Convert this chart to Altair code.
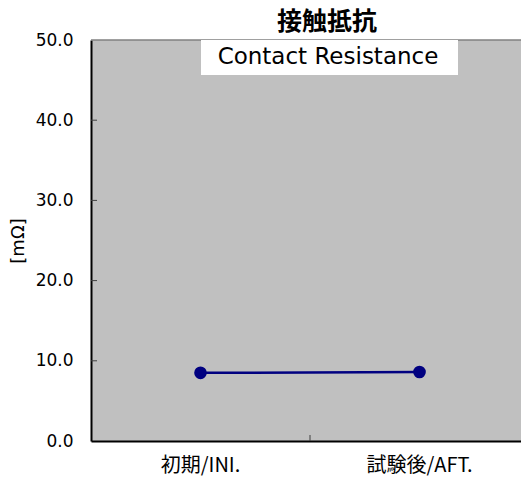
import altair as alt
import pandas as pd

categories = ["初期/INI.", "試験後/AFT."]
values = [8.5, 8.6]
y_ticks = [0, 10, 20, 30, 40, 50]
title_main = "接触抵抗"
title_sub = "Contact Resistance"
y_title = "[mΩ]"

df = pd.DataFrame({"cat": categories, "v": values})
df_ticks = pd.DataFrame({"t": y_ticks[1:-1]})
df_xtick = pd.DataFrame({"cat": categories[1:]})
df_text = pd.DataFrame({"main": [title_main], "sub": [title_sub]})

W, H = 430, 401
navy = "#000080"

xscale = alt.Scale(type="band", domain=categories, range=[0, 438],
                   paddingInner=0, paddingOuter=0)
yscale = alt.Scale(domain=[0, 50], nice=False)

xenc = alt.X("cat:N", scale=xscale, sort=categories,
             axis=alt.Axis(title=None, ticks=False, tickSize=0, labelAngle=0,
                           bandPosition=0.5,
                           labelFont="Noto Sans CJK JP", labelFontSize=20,
                           labelColor="black", labelPadding=14,
                           domainColor="black", domainWidth=2))
yenc = alt.Y("v:Q", scale=yscale,
             axis=alt.Axis(values=y_ticks, format=".1f", ticks=False, tickSize=0,
                           grid=False, labelFont="DejaVu Sans", labelFontSize=17,
                           labelColor="black", labelPadding=18,
                           domainColor="black", domainWidth=2,
                           title=y_title, titleFont="DejaVu Sans", titleFontSize=18,
                           titleFontWeight="normal", titleColor="black",
                           titleAngle=-90, titleX=-73, titleY=H / 2,
                           titleBaseline="middle", titleAlign="center"))

line = alt.Chart(df).mark_line(color=navy, strokeWidth=2.5).encode(x=xenc, y=yenc)
pts = alt.Chart(df).mark_circle(color=navy, size=160, opacity=1).encode(x=xenc, y=yenc)

top_rule = alt.Chart(df_text).mark_rule(color="#808080", strokeWidth=1.5).encode(
    y=alt.value(0), x=alt.value(0), x2=alt.value(W))
ytick_rules = alt.Chart(df_ticks).mark_rule(color="#404040", strokeWidth=1).encode(
    y=alt.Y("t:Q", scale=yscale), x=alt.value(0), x2=alt.value(6))
xtick_rule = alt.Chart(df_xtick).mark_rule(color="#404040", strokeWidth=1).encode(
    x=alt.X("cat:N", scale=xscale, bandPosition=0),
    y=alt.value(H - 6), y2=alt.value(H))

box = alt.Chart(df_text).mark_rect(color="white").encode(
    x=alt.value(110), x2=alt.value(367), y=alt.value(0), y2=alt.value(35))
sub = alt.Chart(df_text).mark_text(font="DejaVu Sans", fontSize=23, color="black",
                                   baseline="middle", align="center").encode(
    text="sub:N", x=alt.value(237), y=alt.value(17))
main = alt.Chart(df_text).mark_text(font="Noto Sans CJK JP", fontSize=25, fontWeight="bold",
                                    color="black", baseline="middle", align="center").encode(
    text="main:N", x=alt.value(236), y=alt.value(-18))

chart = alt.layer(line, pts, top_rule, ytick_rules, xtick_rule, box, sub, main).properties(
    width=W, height=H,
    autosize=alt.AutoSizeParams(type="none"),
    padding={"left": 83, "top": 32, "right": 0, "bottom": 45},
).configure_view(fill="#c0c0c0", strokeWidth=0)

chart.save("out.html", embed_options={"renderer": "svg", "actions": False})
